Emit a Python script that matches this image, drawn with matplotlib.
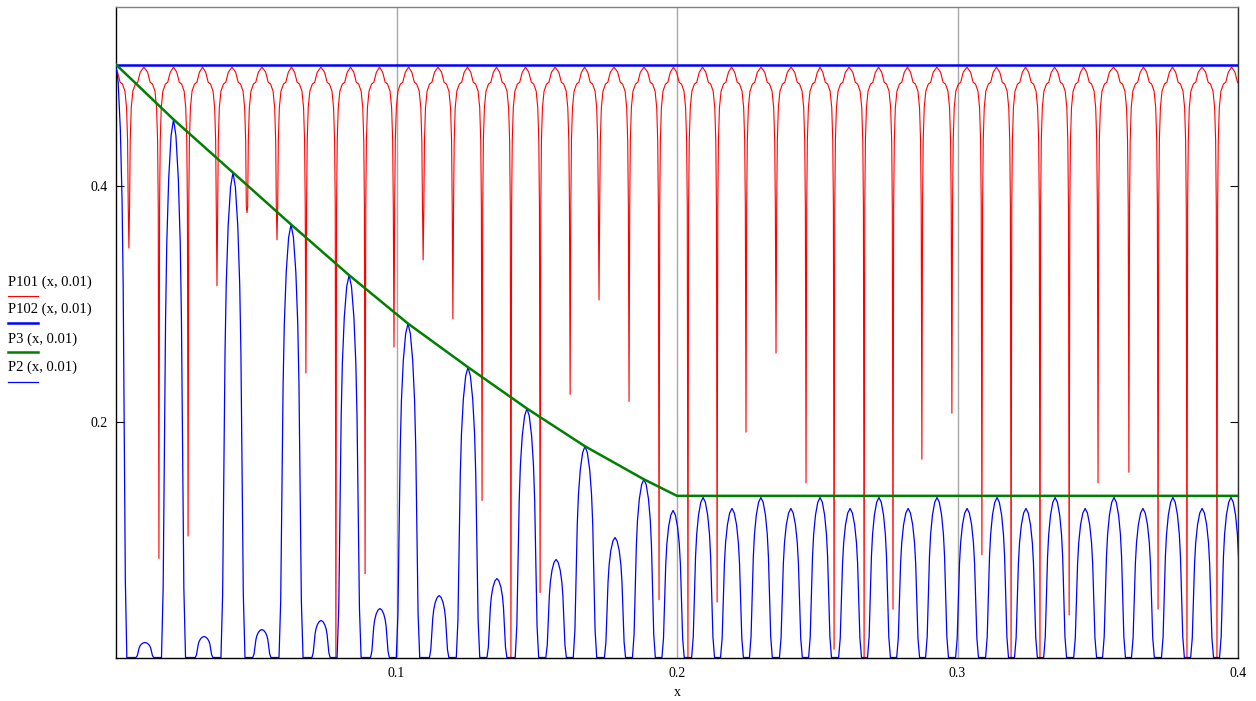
import numpy as np
from matplotlib import pyplot as plt
from matplotlib.lines import Line2D

plt.rcParams['font.family'] = ['Liberation Serif', 'DejaVu Serif']
plt.rcParams['font.size'] = 10

# P101: position and depth of every notch, level of the flat tops
red_dip_x = [0.0046, 0.0153, 0.0257, 0.0360, 0.0467, 0.0574, 0.0677, 0.0784, 0.0888, 0.0991,
             0.1095, 0.1201, 0.1305, 0.1408, 0.1512, 0.1619, 0.1722, 0.1829, 0.1936, 0.2039,
             0.2143, 0.2246, 0.2353, 0.2460, 0.2560, 0.2667, 0.2770, 0.2873, 0.2980, 0.3087,
             0.3191, 0.3294, 0.3398, 0.3501, 0.3611, 0.3715, 0.3818, 0.3925]
red_dip_y = [0.347, 0.084, 0.103, 0.315, 0.377, 0.354, 0.241, 0.000, 0.071, 0.263,
             0.337, 0.287, 0.133, 0.000, 0.055, 0.223, 0.303, 0.217, 0.049, 0.000,
             0.047, 0.191, 0.258, 0.148, 0.007, 0.000, 0.041, 0.168, 0.207, 0.087,
             0.000, 0.000, 0.036, 0.148, 0.157, 0.041, 0.000, 0.000]
red_top = 0.5003

# P102: constant
p102_x = [0.0, 0.4]
p102_y = [0.5025, 0.5025]

# P2: every bump (centre, height, half width in periods)
blue_x = [0.0000, 0.0103, 0.0205, 0.0314, 0.0417, 0.0520, 0.0624, 0.0731, 0.0831, 0.0941,
          0.1041, 0.1152, 0.1255, 0.1358, 0.1465, 0.1569, 0.1672, 0.1779, 0.1882, 0.1986,
          0.2093, 0.2196, 0.2299, 0.2406, 0.2510, 0.2617, 0.2720, 0.2824, 0.2927, 0.3034,
          0.3141, 0.3244, 0.3348, 0.3455, 0.3558, 0.3661, 0.3768, 0.3872, 0.3975]
blue_y = [0.5025, 0.0127, 0.456, 0.0178, 0.411, 0.0237, 0.367, 0.0314, 0.324, 0.0415,
          0.283, 0.0525, 0.246, 0.0669, 0.211, 0.0831, 0.179, 0.1017, 0.151, 0.1246,
          0.1356, 0.1263, 0.1356, 0.1263, 0.1356, 0.1263, 0.1356, 0.1263, 0.1356, 0.1263,
          0.1356, 0.1263, 0.1356, 0.1263, 0.1356, 0.1263, 0.1356, 0.1263, 0.1356]
blue_hw = [0.37, 0.30, 0.41, 0.30, 0.41, 0.31, 0.41, 0.31, 0.41, 0.32,
           0.40, 0.33, 0.40, 0.34, 0.40, 0.35, 0.40, 0.36, 0.39, 0.38,
           0.39, 0.39, 0.39, 0.39, 0.39, 0.39, 0.39, 0.39, 0.39, 0.39,
           0.39, 0.39, 0.39, 0.39, 0.39, 0.39, 0.39, 0.39, 0.39]

# P3: envelope
green_x = [0.0, 0.0205, 0.0417, 0.0624, 0.0831, 0.1041, 0.1255, 0.1465, 0.1672, 0.1882, 0.2, 0.4]
green_y = [0.5025, 0.456, 0.411, 0.367, 0.324, 0.283, 0.246, 0.211, 0.179, 0.151, 0.137, 0.137]

legend_labels = ['P101 (x, 0.01)', 'P102 (x, 0.01)', 'P3 (x, 0.01)', 'P2 (x, 0.01)']
xtick_vals = [0.1, 0.2, 0.3, 0.4]
xtick_text = ['0.1', '0.2', '0.3', '0.4']
ytick_vals = [0.2, 0.4]
ytick_text = ['0.2', '0.4']

# shape of one notch / one bump
PERIOD = 0.01045
notch_u = [0.023, 0.045, 0.08, 0.135, 0.22, 0.30, 0.386]
notch_v = [0.382, 0.438, 0.466, 0.480, 0.486, 0.4875, 0.496]
bump_v = [0.0, 0.2, 0.4, 0.56, 0.66, 0.76, 0.86, 1.0]
bump_f = [1.0, 0.97, 0.89, 0.77, 0.63, 0.38, 0.13, 0.0]


def notch_curve(dx, dy):
    centres = [dx[0] - PERIOD] + list(dx) + [dx[-1] + PERIOD]
    depths = [0.0] + list(dy) + [0.0]
    pts = []
    for c, d in zip(centres, depths):
        pts.append((c, d))
        for u, v in zip(notch_u, notch_v):
            pts.append((c - u * PERIOD, v))
            pts.append((c + u * PERIOD, v))
    for a, b in zip(centres[:-1], centres[1:]):
        pts.append(((a + b) / 2, red_top))
    pts.sort()
    return np.array(pts).T


def bump_curve(bx, by, bw):
    pts = []
    for c, h, w in zip(bx, by, bw):
        for v, f in zip(bump_v, bump_f):
            pts.append((c - v * w * PERIOD, f * h))
            if v > 0:
                pts.append((c + v * w * PERIOD, f * h))
    pts.sort()
    return np.array(pts).T


fig = plt.figure(figsize=(12.56, 7.01), dpi=100)
ax = fig.add_axes([116 / 1256, 43.5 / 701, 1122 / 1256, 651 / 701])

rx, ry = notch_curve(red_dip_x, red_dip_y)
bx, by = bump_curve(blue_x, blue_y, blue_hw)

ax.plot(rx, ry, color='#ff0000', lw=0.8, zorder=2)
ax.plot(p102_x, p102_y, color='#0000ff', lw=1.8, zorder=3)
ax.plot(bx, by, color='#0000ff', lw=0.9, zorder=3)
ax.plot(green_x, green_y, color='#008000', lw=1.8, zorder=4)

ax.set_xlim(0, 0.4)
ax.set_ylim(0, 0.5517)
ax.set_xticks(xtick_vals)
ax.set_xticklabels(xtick_text)
ax.set_yticks(ytick_vals)
ax.set_yticklabels(ytick_text)
ax.tick_params(axis='x', length=0, pad=7)
ax.tick_params(axis='y', direction='in', length=6, left=True, right=True, pad=6)
ax.grid(axis='x', color='#a8a8a8', lw=1)
ax.set_axisbelow(True)
ax.set_xlabel('x', labelpad=4)

for side, col in [('left', 'black'), ('bottom', 'black'), ('top', '#808080'), ('right', '#303030')]:
    ax.spines[side].set_color(col)
    ax.spines[side].set_linewidth(1.0)

# legend on the left, Mathcad style: name with a line under it
leg_colors = ['#ff0000', '#0000ff', '#008000', '#0000ff']
leg_widths = [0.8, 1.8, 1.8, 0.9]
text_rows = [282, 309, 339, 367]
line_rows = [296, 323, 352, 382]
for lab, c, w, ty, ly in zip(legend_labels, leg_colors, leg_widths, text_rows, line_rows):
    fig.text(8 / 1256, 1 - ty / 701, lab, ha='left', va='center', fontsize=10.5)
    fig.add_artist(Line2D([8 / 1256, 38 / 1256], [1 - ly / 701] * 2, color=c, lw=w))

plt.savefig('out.png', dpi=100)
